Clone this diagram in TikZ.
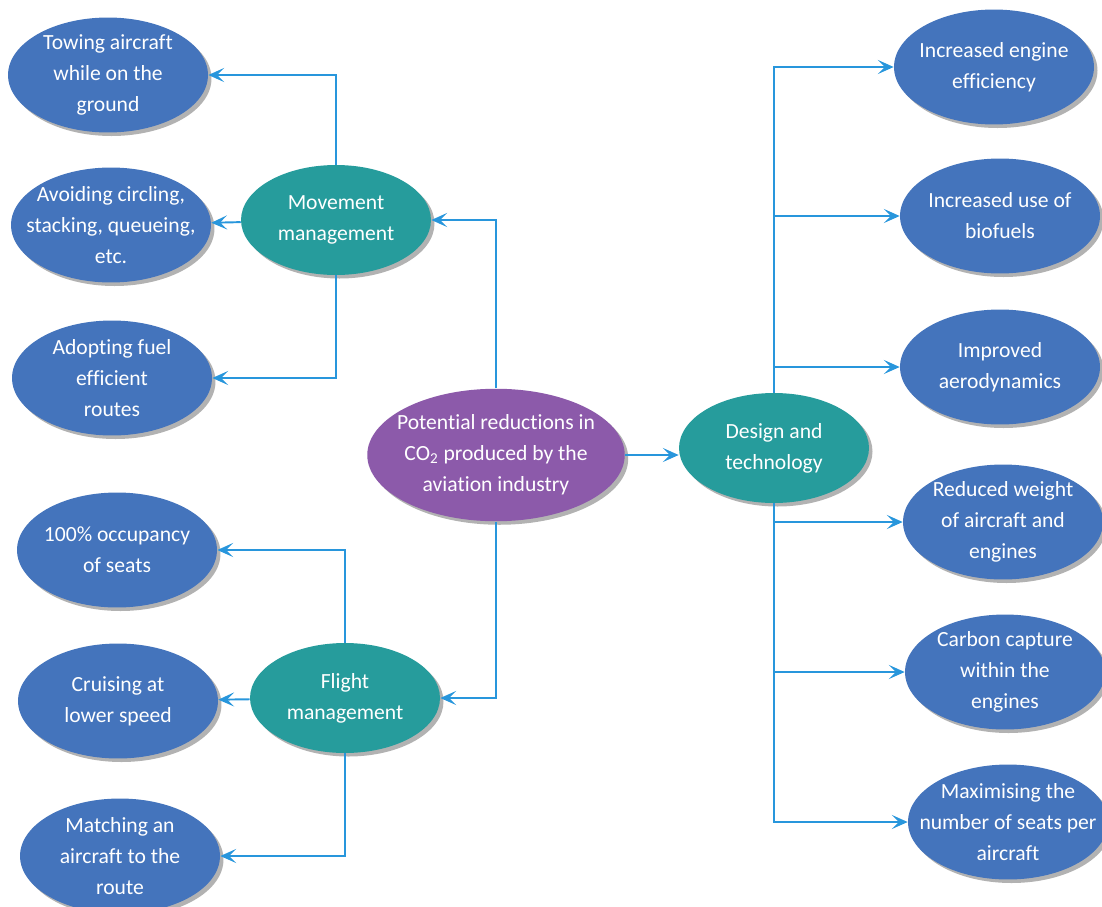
\documentclass[tikz,border=0pt]{standalone}
\usepackage{fontspec}
\setmainfont[Ligatures=NoCommon]{Carlito}
\usetikzlibrary{shapes.geometric,shadows,arrows.meta}
\definecolor{leafblue}{RGB}{68,116,188}
\definecolor{midteal}{RGB}{38,156,156}
\definecolor{hubpurple}{RGB}{140,90,170}
\definecolor{linkblue}{RGB}{40,150,220}
\tikzset{
  bubble/.style={ellipse,inner xsep=-1cm,inner ysep=-0.5cm,align=center,text=white,
    font=\fontsize{12.3}{17.6}\selectfont,
    drop shadow={shadow xshift=2pt,shadow yshift=-2pt,fill=black!55,opacity=.55}},
  leaf/.style={bubble,fill=leafblue,minimum width=4cm,minimum height=2.3cm},
  branch/.style={bubble,fill=midteal,minimum width=3.8cm,minimum height=2.2cm},
  link/.style={->,linkblue,line width=1.1pt},
}
\begin{document}
\begin{tikzpicture}[x=0.02cm,y=-0.02cm,>={Stealth[length=9pt,width=8pt,inset=4pt]}]
    \useasboundingbox (0,0) rectangle (1102,906);
    % centre and the three groups
    \node[bubble,fill=hubpurple,minimum width=5.15cm,minimum height=2.65cm] (hub) at (496,455)
        {Potential reductions in\\CO\textsubscript{2} produced by the\\aviation industry};
    \node[branch] (move) at (336,220) {Movement\\management};
    \node[branch] (flight) at (345,698) {Flight\\management};
    \node[branch] (design) at (774,448) {Design and\\technology};
    % left hand side
    \node[leaf] (tow) at (108,75) {Towing aircraft\\while on the\\ground};
    \node[leaf] (avoid) at (111,225) {Avoiding circling,\\stacking, queueing,\\etc.};
    \node[leaf] (adopt) at (112,378) {Adopting fuel\\efficient\\routes};
    \node[leaf] (seats) at (117,550) {100\% occupancy\\of seats};
    \node[leaf] (cruise) at (118,701) {Cruising at\\lower speed};
    \node[leaf] (match) at (120,856) {Matching an\\aircraft to the\\route};
    % right hand side
    \node[leaf] (eng) at (994,67) {Increased engine\\efficiency};
    \node[leaf] (bio) at (1000,216) {Increased use of\\biofuels};
    \node[leaf] (aero) at (1000,367) {Improved\\aerodynamics};
    \node[leaf] (weight) at (1003,522) {Reduced weight\\of aircraft and\\engines};
    \node[leaf] (capture) at (1005,672) {Carbon capture\\within the\\engines};
    \node[leaf] (maxseats) at (1008,822) {Maximising the\\number of seats per\\aircraft};
    % connectors
    \draw[link] (hub.north) |- (move);
    \draw[link] (hub.south) |- (flight);
    \draw[link] (hub.east) -- (hub.east -| design.west);
    \draw[link] (move.north) |- (tow);
    \draw[link] (move) -- (avoid);
    \draw[link] (move.south) |- (adopt);
    \draw[link] (flight.north) |- (seats);
    \draw[link] (flight) -- (cruise);
    \draw[link] (flight.south) |- (match);
    \foreach \r in {eng,bio,aero} \draw[link] (design.north) |- (\r);
    \foreach \r in {weight,capture,maxseats} \draw[link] (design.south) |- (\r);
\end{tikzpicture}
\end{document}
